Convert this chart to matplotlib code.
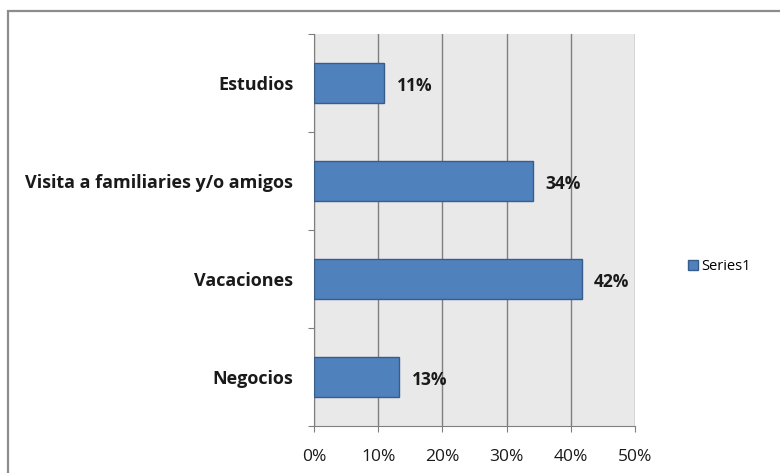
import matplotlib.pyplot as plt
from matplotlib.patches import Rectangle
from matplotlib.ticker import FuncFormatter

# data (bottom to top)
categories = ["Negocios", "Vacaciones", "Visita a familiaries y/o amigos", "Estudios"]
values = [13.3, 41.7, 34.1, 10.9]
series_name = "Series1"

plt.rcParams['font.family'] = ['Open Sans', 'DejaVu Sans']

fig = plt.figure(figsize=(7.8, 4.73), dpi=100)

# outer chart border
fig.patches.append(Rectangle((8 / 780, -0.05), 1.0, 1 - 11 / 473 + 0.05,
                             transform=fig.transFigure, fill=False,
                             edgecolor='#8c8c8c', linewidth=1.6))

ax = fig.add_axes([314 / 780, 1 - 426 / 473, 321 / 780, 392 / 473])
ax.set_facecolor('#e9e9e9')

y = list(range(len(categories)))
bars = ax.barh(y, values, height=0.41, color='#4f81bd', edgecolor='#385d8a',
               linewidth=1, label=series_name, zorder=3)
lbls = ax.bar_label(bars, labels=[f"{v:.0f}%" for v in values], padding=9,
                    fontsize=12.5, fontweight='bold', color='#1a1a1a')
# labels sit a little below the bar centre in the original
for t in lbls:
    t.xyann = (9, -2.5)

ax.set_xlim(0, 50)
ax.set_ylim(-0.5, len(categories) - 0.5)
ax.set_xticks(range(0, 51, 10))
ax.xaxis.set_major_formatter(FuncFormatter(lambda v, p: f"{v:.0f}%"))
ax.grid(axis='x', color='#7f7f7f', linewidth=1, zorder=1)

ax.set_yticks([i - 0.5 for i in range(len(categories) + 1)])
ax.set_yticklabels([])
ax.set_yticks(y, minor=True)
ax.set_yticklabels(categories, minor=True, fontsize=13, fontweight='bold', color='#1a1a1a')
ax.tick_params(axis='y', which='major', length=4.3, color='#7f7f7f')
ax.tick_params(axis='y', which='minor', length=0, pad=15)
ax.tick_params(axis='x', length=4.3, color='#7f7f7f', pad=12, labelsize=12.5, labelcolor='#1a1a1a')

for s in ['top', 'right']:
    ax.spines[s].set_visible(False)
for s in ['left', 'bottom']:
    ax.spines[s].set_color('#7f7f7f')

fig.legend(loc='center left', bbox_to_anchor=(682 / 780, 1 - 267 / 473), frameon=False,
           fontsize=10.5, handlelength=0.7, handleheight=0.7, handletextpad=0.2,
           borderaxespad=0)

fig.savefig("out.png", dpi=100)
